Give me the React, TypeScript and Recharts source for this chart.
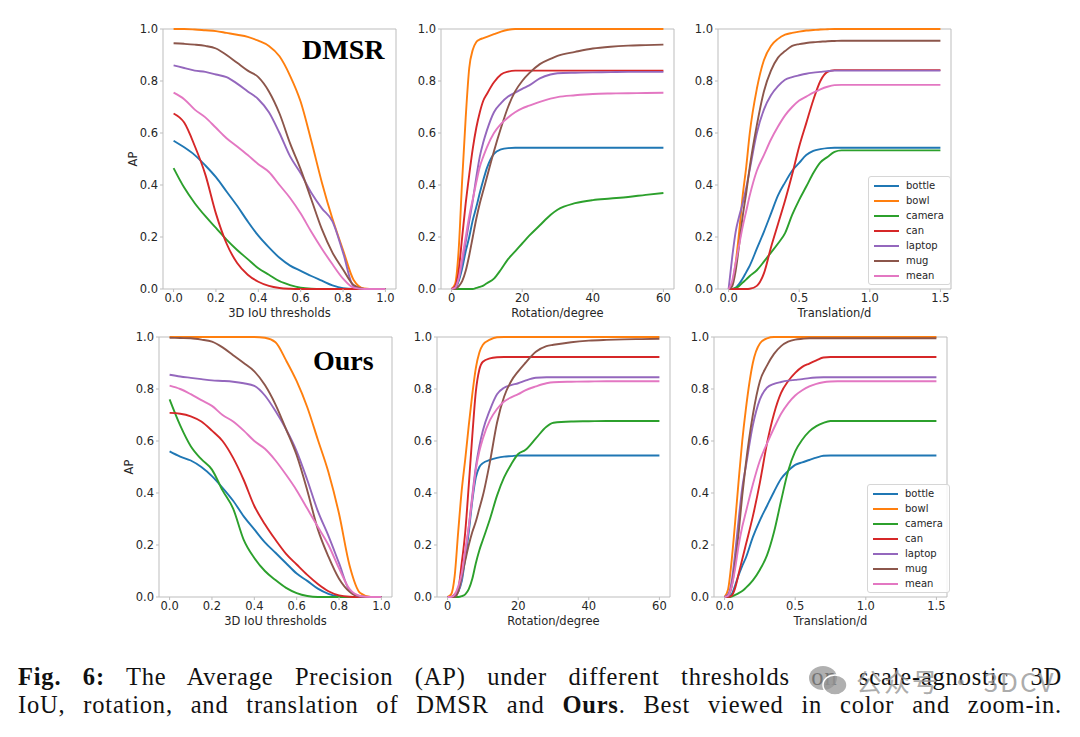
import { Legend, Line, LineChart, ReferenceArea, XAxis, YAxis } from "recharts";

// ---- data ----------------------------------------------------------------

const categories = ["bottle", "bowl", "camera", "can", "laptop", "mug", "mean"];
const colors = ["#1f77b4", "#ff7f0e", "#2ca02c", "#d62728", "#9467bd", "#8c564b", "#e377c2"];

const iouX = [0, 0.05, 0.1, 0.15, 0.2, 0.25, 0.3, 0.35, 0.4, 0.45, 0.5, 0.55, 0.6, 0.65, 0.7, 0.75, 0.8, 0.85, 0.9, 0.95, 1.0];
const rotX = [0, 1, 2, 3, 4, 5, 6, 7, 8, 9, 10, 12, 14, 16, 18, 20, 22, 25, 28, 30, 35, 40, 45, 50, 55, 60];
const transX = [0, 0.025, 0.05, 0.075, 0.1, 0.125, 0.15, 0.2, 0.25, 0.3, 0.35, 0.4, 0.45, 0.5, 0.55, 0.6, 0.65, 0.7, 0.75, 0.8, 0.9, 1.0, 1.1, 1.2, 1.3, 1.4, 1.5];

const iouTicks = [0, 0.2, 0.4, 0.6, 0.8, 1.0];
const rotTicks = [0, 20, 40, 60];
const transTicks = [0, 0.5, 1.0, 1.5];
const apTicks = [0, 0.2, 0.4, 0.6, 0.8, 1.0];

// DMSR, 3D IoU
const dmsrIouBottle = [0.57, 0.545, 0.515, 0.475, 0.43, 0.375, 0.32, 0.26, 0.205, 0.16, 0.12, 0.09, 0.07, 0.05, 0.032, 0.014, 0.003, 0, 0, 0, 0];
const dmsrIouBowl = [1.0, 1.0, 0.998, 0.995, 0.992, 0.985, 0.978, 0.97, 0.955, 0.935, 0.895, 0.82, 0.72, 0.57, 0.41, 0.27, 0.15, 0.035, 0.002, 0, 0];
const dmsrIouCamera = [0.465, 0.39, 0.33, 0.28, 0.235, 0.19, 0.15, 0.115, 0.08, 0.055, 0.03, 0.015, 0.005, 0.001, 0, 0, 0, 0, 0, 0, 0];
const dmsrIouCan = [0.675, 0.64, 0.55, 0.44, 0.29, 0.175, 0.1, 0.055, 0.028, 0.012, 0.004, 0.001, 0, 0, 0, 0, 0, 0, 0, 0, 0];
const dmsrIouLaptop = [0.86, 0.85, 0.84, 0.835, 0.825, 0.815, 0.79, 0.76, 0.73, 0.68, 0.6, 0.51, 0.445, 0.37, 0.31, 0.26, 0.14, 0.01, 0, 0, 0];
const dmsrIouMug = [0.945, 0.943, 0.94, 0.935, 0.925, 0.9, 0.87, 0.84, 0.815, 0.76, 0.675, 0.56, 0.46, 0.345, 0.23, 0.14, 0.075, 0.015, 0, 0, 0];
const dmsrIouMean = [0.755, 0.73, 0.69, 0.66, 0.62, 0.58, 0.548, 0.515, 0.48, 0.45, 0.4, 0.35, 0.29, 0.22, 0.155, 0.095, 0.04, 0.005, 0, 0, 0];

// DMSR, rotation
const dmsrRotBottle = [0, 0.003, 0.03, 0.08, 0.145, 0.2, 0.265, 0.315, 0.37, 0.42, 0.465, 0.52, 0.537, 0.542, 0.543, 0.543, 0.543, 0.543, 0.543, 0.543, 0.543, 0.543, 0.543, 0.543, 0.543, 0.543];
const dmsrRotBowl = [0, 0.02, 0.15, 0.42, 0.66, 0.85, 0.92, 0.95, 0.96, 0.965, 0.97, 0.98, 0.99, 0.997, 1, 1, 1, 1, 1, 1, 1, 1, 1, 1, 1, 1];
const dmsrRotCamera = [0, 0, 0, 0, 0, 0, 0, 0.004, 0.008, 0.013, 0.022, 0.04, 0.075, 0.115, 0.145, 0.175, 0.205, 0.245, 0.285, 0.305, 0.33, 0.342, 0.348, 0.354, 0.362, 0.369];
const dmsrRotCan = [0, 0.01, 0.07, 0.2, 0.33, 0.44, 0.54, 0.62, 0.68, 0.725, 0.75, 0.795, 0.825, 0.836, 0.84, 0.84, 0.84, 0.84, 0.84, 0.84, 0.84, 0.84, 0.84, 0.84, 0.84, 0.84];
const dmsrRotLaptop = [0, 0.005, 0.04, 0.1, 0.18, 0.26, 0.34, 0.43, 0.51, 0.565, 0.61, 0.68, 0.715, 0.74, 0.755, 0.77, 0.783, 0.81, 0.825, 0.83, 0.832, 0.833, 0.834, 0.835, 0.835, 0.835];
const dmsrRotMug = [0, 0, 0.01, 0.03, 0.07, 0.13, 0.2, 0.27, 0.33, 0.38, 0.43, 0.53, 0.62, 0.7, 0.76, 0.8, 0.83, 0.865, 0.885, 0.897, 0.912, 0.925, 0.932, 0.936, 0.938, 0.94];
const dmsrRotMean = [0, 0.005, 0.04, 0.12, 0.2, 0.28, 0.345, 0.41, 0.47, 0.51, 0.545, 0.6, 0.635, 0.66, 0.68, 0.695, 0.705, 0.72, 0.732, 0.738, 0.745, 0.75, 0.752, 0.753, 0.754, 0.755];

// DMSR, translation
const dmsrTransBottle = [0, 0, 0.005, 0.02, 0.04, 0.065, 0.09, 0.155, 0.22, 0.29, 0.36, 0.41, 0.455, 0.485, 0.515, 0.531, 0.538, 0.542, 0.543, 0.543, 0.543, 0.543, 0.543, 0.543, 0.543, 0.543, 0.543];
const dmsrTransBowl = [0, 0.02, 0.1, 0.22, 0.36, 0.47, 0.6, 0.77, 0.88, 0.935, 0.962, 0.978, 0.985, 0.99, 0.994, 0.996, 0.998, 0.999, 1, 1, 1, 1, 1, 1, 1, 1, 1];
const dmsrTransCamera = [0, 0, 0.004, 0.012, 0.025, 0.037, 0.05, 0.072, 0.105, 0.14, 0.175, 0.215, 0.285, 0.343, 0.394, 0.446, 0.487, 0.508, 0.527, 0.533, 0.533, 0.533, 0.533, 0.533, 0.533, 0.533, 0.533];
const dmsrTransCan = [0, 0, 0, 0, 0, 0, 0.001, 0.012, 0.06, 0.16, 0.25, 0.34, 0.44, 0.548, 0.638, 0.727, 0.8, 0.835, 0.842, 0.842, 0.842, 0.842, 0.842, 0.842, 0.842, 0.842, 0.842];
const dmsrTransLaptop = [0, 0.12, 0.22, 0.28, 0.33, 0.39, 0.46, 0.6, 0.69, 0.745, 0.78, 0.805, 0.815, 0.822, 0.828, 0.832, 0.835, 0.838, 0.84, 0.84, 0.84, 0.84, 0.84, 0.84, 0.84, 0.84, 0.84];
const dmsrTransMug = [0, 0.01, 0.07, 0.17, 0.28, 0.37, 0.47, 0.63, 0.76, 0.84, 0.89, 0.915, 0.935, 0.942, 0.946, 0.949, 0.951, 0.953, 0.954, 0.955, 0.955, 0.955, 0.955, 0.955, 0.955, 0.955, 0.955];
const dmsrTransMean = [0, 0.03, 0.1, 0.17, 0.24, 0.3, 0.36, 0.455, 0.515, 0.575, 0.625, 0.668, 0.7, 0.725, 0.74, 0.755, 0.768, 0.778, 0.784, 0.785, 0.785, 0.785, 0.785, 0.785, 0.785, 0.785, 0.785];

// Ours, 3D IoU
const oursIouBottle = [0.56, 0.54, 0.525, 0.5, 0.465, 0.42, 0.37, 0.31, 0.26, 0.21, 0.17, 0.13, 0.09, 0.062, 0.032, 0.012, 0.002, 0, 0, 0, 0];
const oursIouBowl = [1, 1, 1, 1, 1, 1, 1, 1, 1, 0.997, 0.98, 0.91, 0.83, 0.73, 0.605, 0.48, 0.32, 0.12, 0.015, 0, 0];
const oursIouCamera = [0.76, 0.66, 0.58, 0.53, 0.49, 0.41, 0.34, 0.22, 0.15, 0.1, 0.065, 0.035, 0.015, 0.004, 0, 0, 0, 0, 0, 0, 0];
const oursIouCan = [0.708, 0.705, 0.695, 0.675, 0.64, 0.6, 0.535, 0.45, 0.35, 0.28, 0.22, 0.166, 0.125, 0.085, 0.05, 0.022, 0.006, 0.001, 0, 0, 0];
const oursIouLaptop = [0.855, 0.848, 0.843, 0.838, 0.833, 0.831, 0.828, 0.822, 0.812, 0.775, 0.715, 0.645, 0.56, 0.45, 0.33, 0.235, 0.13, 0.025, 0.002, 0, 0];
const oursIouMug = [0.997, 0.996, 0.995, 0.99, 0.982, 0.96, 0.93, 0.9, 0.868, 0.815, 0.74, 0.645, 0.545, 0.41, 0.26, 0.155, 0.07, 0.02, 0.002, 0, 0];
const oursIouMean = [0.813, 0.8, 0.78, 0.757, 0.735, 0.7, 0.675, 0.64, 0.6, 0.57, 0.525, 0.47, 0.41, 0.34, 0.27, 0.2, 0.11, 0.03, 0.004, 0, 0];

// Ours, rotation
const oursRotBottle = [0, 0, 0.005, 0.02, 0.06, 0.15, 0.25, 0.37, 0.46, 0.5, 0.515, 0.527, 0.535, 0.54, 0.542, 0.544, 0.544, 0.544, 0.544, 0.544, 0.544, 0.544, 0.544, 0.544, 0.544, 0.544];
const oursRotBowl = [0, 0.01, 0.08, 0.25, 0.41, 0.53, 0.66, 0.78, 0.88, 0.94, 0.97, 0.99, 0.999, 1, 1, 1, 1, 1, 1, 1, 1, 1, 1, 1, 1, 1];
const oursRotCamera = [0, 0, 0, 0, 0.003, 0.01, 0.03, 0.07, 0.13, 0.18, 0.22, 0.3, 0.39, 0.46, 0.51, 0.55, 0.565, 0.61, 0.655, 0.67, 0.675, 0.676, 0.677, 0.677, 0.677, 0.677];
const oursRotCan = [0, 0, 0.01, 0.03, 0.13, 0.25, 0.43, 0.62, 0.79, 0.875, 0.905, 0.918, 0.922, 0.923, 0.923, 0.923, 0.923, 0.923, 0.923, 0.923, 0.923, 0.923, 0.923, 0.923, 0.923, 0.923];
const oursRotLaptop = [0, 0, 0.005, 0.02, 0.07, 0.16, 0.27, 0.39, 0.5, 0.58, 0.64, 0.72, 0.78, 0.805, 0.815, 0.822, 0.832, 0.843, 0.845, 0.845, 0.845, 0.845, 0.845, 0.845, 0.845, 0.845];
const oursRotMug = [0, 0, 0, 0.02, 0.08, 0.14, 0.2, 0.25, 0.29, 0.34, 0.39, 0.52, 0.67, 0.77, 0.83, 0.868, 0.9, 0.943, 0.965, 0.97, 0.98, 0.986, 0.989, 0.991, 0.992, 0.993];
const oursRotMean = [0, 0, 0.01, 0.04, 0.09, 0.18, 0.27, 0.38, 0.49, 0.56, 0.61, 0.68, 0.723, 0.752, 0.768, 0.78, 0.795, 0.81, 0.822, 0.826, 0.828, 0.829, 0.83, 0.83, 0.83, 0.83];

// Ours, translation
const oursTransBottle = [0, 0, 0.01, 0.045, 0.085, 0.12, 0.15, 0.23, 0.295, 0.35, 0.405, 0.455, 0.485, 0.508, 0.518, 0.527, 0.536, 0.543, 0.544, 0.544, 0.544, 0.544, 0.544, 0.544, 0.544, 0.544, 0.544];
const oursTransBowl = [0, 0.03, 0.14, 0.29, 0.45, 0.6, 0.72, 0.9, 0.975, 0.995, 1, 1, 1, 1, 1, 1, 1, 1, 1, 1, 1, 1, 1, 1, 1, 1, 1];
const oursTransCamera = [0, 0, 0.002, 0.008, 0.015, 0.023, 0.035, 0.064, 0.105, 0.16, 0.25, 0.37, 0.485, 0.56, 0.605, 0.637, 0.657, 0.67, 0.677, 0.677, 0.677, 0.677, 0.677, 0.677, 0.677, 0.677, 0.677];
const oursTransCan = [0, 0, 0.005, 0.035, 0.09, 0.145, 0.2, 0.31, 0.44, 0.59, 0.705, 0.785, 0.83, 0.862, 0.885, 0.898, 0.91, 0.921, 0.923, 0.923, 0.923, 0.923, 0.923, 0.923, 0.923, 0.923, 0.923];
const oursTransLaptop = [0, 0.01, 0.06, 0.17, 0.3, 0.42, 0.5, 0.66, 0.76, 0.805, 0.82, 0.827, 0.832, 0.835, 0.838, 0.842, 0.844, 0.845, 0.845, 0.845, 0.845, 0.845, 0.845, 0.845, 0.845, 0.845, 0.845];
const oursTransMug = [0, 0.005, 0.04, 0.13, 0.25, 0.39, 0.51, 0.7, 0.83, 0.89, 0.935, 0.965, 0.982, 0.99, 0.993, 0.995, 0.995, 0.995, 0.995, 0.995, 0.995, 0.995, 0.995, 0.995, 0.995, 0.995, 0.995];
const oursTransMean = [0, 0.005, 0.04, 0.11, 0.2, 0.27, 0.325, 0.433, 0.525, 0.59, 0.65, 0.705, 0.745, 0.775, 0.795, 0.81, 0.82, 0.826, 0.829, 0.83, 0.83, 0.83, 0.83, 0.83, 0.83, 0.83, 0.83];

// ---- helpers -------------------------------------------------------------

type Row = Record<string, number>;

function buildRows(xs: number[], series: number[][]): Row[] {
  return xs.map((x, i) => {
    const row: Row = { x };
    categories.forEach((c, k) => {
      row[c] = series[k][i];
    });
    return row;
  });
}

const FONT = '"DejaVu Sans", sans-serif';
const TEXT = "#262626";
const FRAME = "#bdbdbd";
const PLOT_W = 233;
const PLOT_H = 260;
const Y_AXIS_W = 60;
const X_AXIS_H = 40;
const M_TOP = 10;
const M_RIGHT = 12;

const fmt1 = (v: number) => v.toFixed(1);
const fmt0 = (v: number) => v.toFixed(0);

function LegendBox({ payload }: { payload?: { value: string; color: string }[] }) {
  if (!payload) return null;
  // keep the plotting order rather than the legend's alphabetical sort
  const items = [...payload].sort((a, b) => categories.indexOf(a.value) - categories.indexOf(b.value));
  return (
    <div
      style={{
        border: "1px solid #d6d6d6",
        borderRadius: 3,
        background: "rgba(255,255,255,0.85)",
        padding: "1px 6px 1px 5px",
        fontFamily: FONT,
        fontSize: 10,
        color: TEXT,
        lineHeight: "15px",
      }}
    >
      {items.map((p) => (
        <div key={p.value} style={{ display: "flex", alignItems: "center", height: 15 }}>
          <span style={{ display: "inline-block", width: 25, height: 2, background: p.color, marginRight: 7 }} />
          {p.value}
        </div>
      ))}
    </div>
  );
}

interface PanelProps {
  left: number;
  top: number;
  rows: Row[];
  xDomain: [number, number];
  xTicks: number[];
  xFmt: (v: number) => string;
  xLabel: string;
  yLabel?: string;
  legendAt?: { left: number; top: number };
}

function Panel({ left, top, rows, xDomain, xTicks, xFmt, xLabel, yLabel, legendAt }: PanelProps) {
  const boxLeft = left - Y_AXIS_W;
  const boxTop = top - M_TOP;
  return (
    <div style={{ position: "absolute", left: boxLeft, top: boxTop }}>
      <LineChart
        width={Y_AXIS_W + PLOT_W + M_RIGHT}
        height={M_TOP + PLOT_H + X_AXIS_H}
        data={rows}
        margin={{ top: M_TOP, right: M_RIGHT, bottom: 0, left: 0 }}
      >
        <XAxis
          type="number"
          dataKey="x"
          domain={xDomain}
          ticks={xTicks}
          interval={0}
          tickFormatter={xFmt}
          height={X_AXIS_H}
          axisLine={false}
          tickLine={{ stroke: FRAME }}
          tickSize={3}
          tickMargin={2}
          tick={{ fontSize: 11.5, fill: TEXT, fontFamily: FONT }}
          label={{ value: xLabel, position: "insideBottom", offset: 12, fontSize: 11.5, fill: TEXT, fontFamily: FONT }}
        />
        <YAxis
          type="number"
          domain={[0, 1]}
          ticks={apTicks}
          interval={0}
          tickFormatter={fmt1}
          width={Y_AXIS_W}
          axisLine={false}
          tickLine={{ stroke: FRAME }}
          tickSize={3}
          tickMargin={2}
          tick={{ fontSize: 11.5, fill: TEXT, fontFamily: FONT }}
          label={
            yLabel
              ? { value: yLabel, angle: -90, position: "center", fontSize: 11.5, fill: TEXT, fontFamily: FONT }
              : undefined
          }
        />
        <ReferenceArea
          x1={xDomain[0]}
          x2={xDomain[1]}
          y1={0}
          y2={1}
          fill="none"
          stroke={FRAME}
          strokeWidth={1}
          ifOverflow="visible"
        />
        {categories.map((c, k) => (
          <Line
            key={c}
            dataKey={c}
            name={c}
            type="monotone"
            stroke={colors[k]}
            strokeWidth={1.9}
            dot={false}
            activeDot={false}
            isAnimationActive={false}
          />
        ))}
        {legendAt && (
          <Legend
            layout="vertical"
            align="center"
            verticalAlign="middle"
            content={<LegendBox />}
            wrapperStyle={{ left: legendAt.left, top: legendAt.top, width: "auto", height: "auto" }}
          />
        )}
      </LineChart>
    </div>
  );
}

const dmsrIouRows = buildRows(iouX, [dmsrIouBottle, dmsrIouBowl, dmsrIouCamera, dmsrIouCan, dmsrIouLaptop, dmsrIouMug, dmsrIouMean]);
const dmsrRotRows = buildRows(rotX, [dmsrRotBottle, dmsrRotBowl, dmsrRotCamera, dmsrRotCan, dmsrRotLaptop, dmsrRotMug, dmsrRotMean]);
const dmsrTransRows = buildRows(transX, [dmsrTransBottle, dmsrTransBowl, dmsrTransCamera, dmsrTransCan, dmsrTransLaptop, dmsrTransMug, dmsrTransMean]);
const oursIouRows = buildRows(iouX, [oursIouBottle, oursIouBowl, oursIouCamera, oursIouCan, oursIouLaptop, oursIouMug, oursIouMean]);
const oursRotRows = buildRows(rotX, [oursRotBottle, oursRotBowl, oursRotCamera, oursRotCan, oursRotLaptop, oursRotMug, oursRotMean]);
const oursTransRows = buildRows(transX, [oursTransBottle, oursTransBowl, oursTransCamera, oursTransCan, oursTransLaptop, oursTransMug, oursTransMean]);

const iouDomain: [number, number] = [-0.05, 1.05];
const rotDomain: [number, number] = [-3, 63];
const transDomain: [number, number] = [-0.075, 1.575];

const titleStyle = {
  position: "absolute" as const,
  fontFamily: '"Liberation Serif", "Times New Roman", serif',
  fontWeight: 700,
  fontSize: 28,
  lineHeight: "28px",
  color: "#000",
};

const captionLine = {
  position: "absolute" as const,
  left: 18,
  width: 1044,
  fontFamily: '"Liberation Serif", "Times New Roman", serif',
  fontSize: 24.5,
  lineHeight: "28px",
  color: "#111",
  textAlign: "justify" as const,
  textAlignLast: "justify" as const,
  whiteSpace: "nowrap" as const,
  letterSpacing: 0.8,
};

export default function App() {
  return (
    <div style={{ position: "absolute", left: 0, top: 0, width: 1080, height: 737, background: "#fff", overflow: "hidden" }}>
      <Panel left={163} top={29} rows={dmsrIouRows} xDomain={iouDomain} xTicks={iouTicks} xFmt={fmt1} xLabel="3D IoU thresholds" yLabel="AP" />
      <Panel left={441} top={29} rows={dmsrRotRows} xDomain={rotDomain} xTicks={rotTicks} xFmt={fmt0} xLabel="Rotation/degree" />
      <Panel
        left={718}
        top={29}
        rows={dmsrTransRows}
        xDomain={transDomain}
        xTicks={transTicks}
        xFmt={fmt1}
        xLabel="Translation/d"
        legendAt={{ left: 868 - 718 + Y_AXIS_W, top: 176 - 29 + M_TOP }}
      />
      <Panel left={159} top={337} rows={oursIouRows} xDomain={iouDomain} xTicks={iouTicks} xFmt={fmt1} xLabel="3D IoU thresholds" yLabel="AP" />
      <Panel left={437} top={337} rows={oursRotRows} xDomain={rotDomain} xTicks={rotTicks} xFmt={fmt0} xLabel="Rotation/degree" />
      <Panel
        left={714}
        top={337}
        rows={oursTransRows}
        xDomain={transDomain}
        xTicks={transTicks}
        xFmt={fmt1}
        xLabel="Translation/d"
        legendAt={{ left: 867 - 714 + Y_AXIS_W, top: 484 - 337 + M_TOP }}
      />

      <div style={{ ...titleStyle, left: 302, top: 36 }}>DMSR</div>
      <div style={{ ...titleStyle, left: 313, top: 347 }}>Ours</div>

      <div style={{ ...captionLine, top: 663 }}>
        <b>Fig. 6:</b> The Average Precision (AP) under different thresholds on scale-agnostic 3D
      </div>
      <div style={{ ...captionLine, top: 691 }}>
        IoU, rotation, and translation of DMSR and <b>Ours</b>. Best viewed in color and zoom-in.
      </div>

      <div
        style={{
          position: "absolute",
          left: 806,
          top: 663,
          display: "flex",
          alignItems: "center",
          color: "rgba(150,150,150,0.8)",
          fontFamily: '"Noto Sans CJK SC", sans-serif',
          fontSize: 26,
          lineHeight: "36px",
          letterSpacing: 2,
        }}
      >
        <svg width={44} height={36} viewBox="0 0 44 36">
          <ellipse cx={17} cy={15} rx={14} ry={12} fill="rgba(150,150,150,0.75)" />
          <ellipse cx={29} cy={22} rx={12} ry={10} fill="rgba(150,150,150,0.75)" stroke="#fff" strokeWidth={1.5} />
        </svg>
        <span style={{ marginLeft: 6 }}>公众号 · 3DCV</span>
      </div>
    </div>
  );
}
